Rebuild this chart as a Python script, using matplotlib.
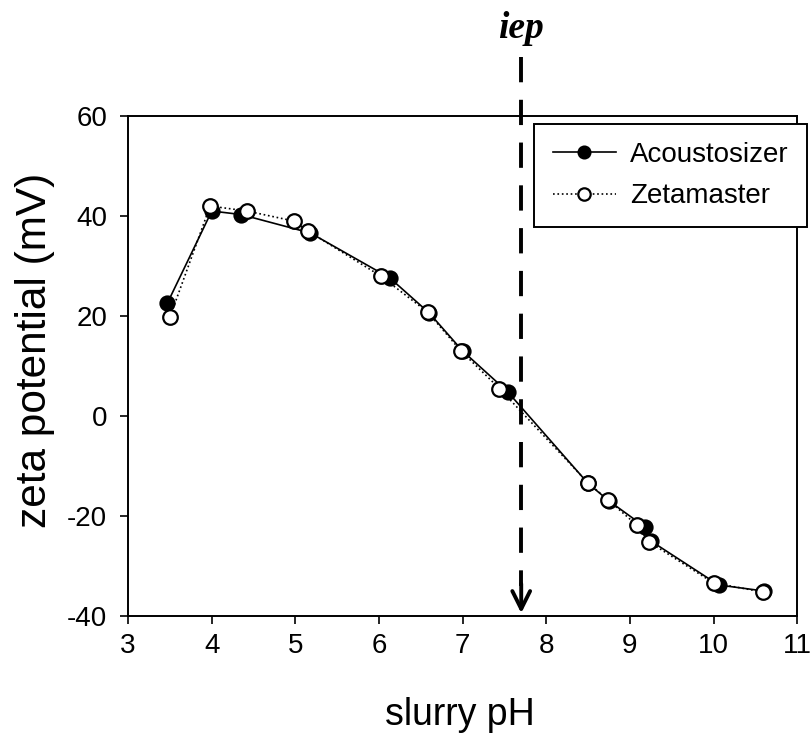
import matplotlib
matplotlib.use('Agg')
import matplotlib.pyplot as plt

# --- Data ---
acoPh = [3.47, 4.00, 4.35, 5.18, 6.13, 6.60, 7.00, 7.54, 8.50, 8.75, 9.18, 9.25, 10.06, 10.60]
acoZeta = [22.6, 41.0, 40.3, 36.6, 27.6, 20.6, 13.0, 4.8, -13.5, -17.0, -22.2, -25.0, -33.8, -35.0]

zetaPh = [3.50, 3.98, 4.42, 4.98, 5.15, 6.02, 6.58, 6.98, 7.44, 8.50, 8.74, 9.08, 9.23, 10.00, 10.59]
zetaZeta = [19.8, 42.0, 41.0, 39.0, 37.0, 28.0, 20.8, 13.0, 5.5, -13.4, -16.8, -21.8, -25.2, -33.4, -35.2]

iepPh = 7.7
xTicks = [3, 4, 5, 6, 7, 8, 9, 10, 11]
yTicks = [-40, -20, 0, 20, 40, 60]

plt.rcParams['font.family'] = ['Liberation Sans', 'DejaVu Sans']
plt.rcParams['axes.unicode_minus'] = False

fig = plt.figure(figsize=(8.11, 7.4), dpi=100)
ax = fig.add_axes([0.158, 0.1676, 0.825, 0.6756])

ax.plot(acoPh, acoZeta, '-', color='black', lw=1.2, marker='o', ms=10.5,
        mfc='black', mec='black', mew=1.2, label='Acoustosizer', zorder=3)
ax.plot(zetaPh, zetaZeta, ':', color='black', lw=1.2, marker='o', ms=10.5,
        mfc='white', mec='black', mew=1.6, label='Zetamaster', zorder=4)

# iep marker: dashed drop line with open arrowhead onto the x axis
ax.plot([iepPh, iepPh], [71.8, -34], color='black', lw=2.8,
        dashes=(6.5, 4.5), clip_on=False, zorder=5)
ax.annotate('', xy=(iepPh, -40), xytext=(iepPh, -33),
            arrowprops=dict(arrowstyle='->', color='black', lw=2.8,
                            mutation_scale=32),
            annotation_clip=False, zorder=5)
ax.text(iepPh, 75.6, 'iep', ha='center', va='baseline', fontsize=27,
        family='Liberation Serif', style='italic', weight='bold')

ax.set_xlim(3, 11)
ax.set_ylim(-40, 60)
ax.set_xticks(xTicks)
ax.set_yticks(yTicks)
ax.tick_params(direction='out', length=6, width=1.2, labelsize=20, pad=6)
ax.tick_params(axis='y', pad=9)
for s in ax.spines.values():
    s.set_linewidth(1.4)

fig.text(460 / 811, 1 - 725 / 740, 'slurry pH', fontsize=27,
         ha='center', va='baseline')
fig.text(35 / 811, 1 - 350 / 740, 'zeta potential (mV)', fontsize=30.5,
         rotation=90, ha='center', va='center')

leg = ax.legend(loc='upper right', bbox_to_anchor=(807 / 811, 1 - 124 / 740),
                bbox_transform=fig.transFigure, borderaxespad=0,
                fontsize=20, frameon=True, fancybox=False, borderpad=0.65,
                handlelength=2.3, handletextpad=0.5, labelspacing=0.55,
                markerscale=0.85)
leg.get_frame().set_edgecolor('black')
leg.get_frame().set_linewidth(1.4)
leg.get_frame().set_alpha(1)

fig.savefig('out.png', dpi=100)
